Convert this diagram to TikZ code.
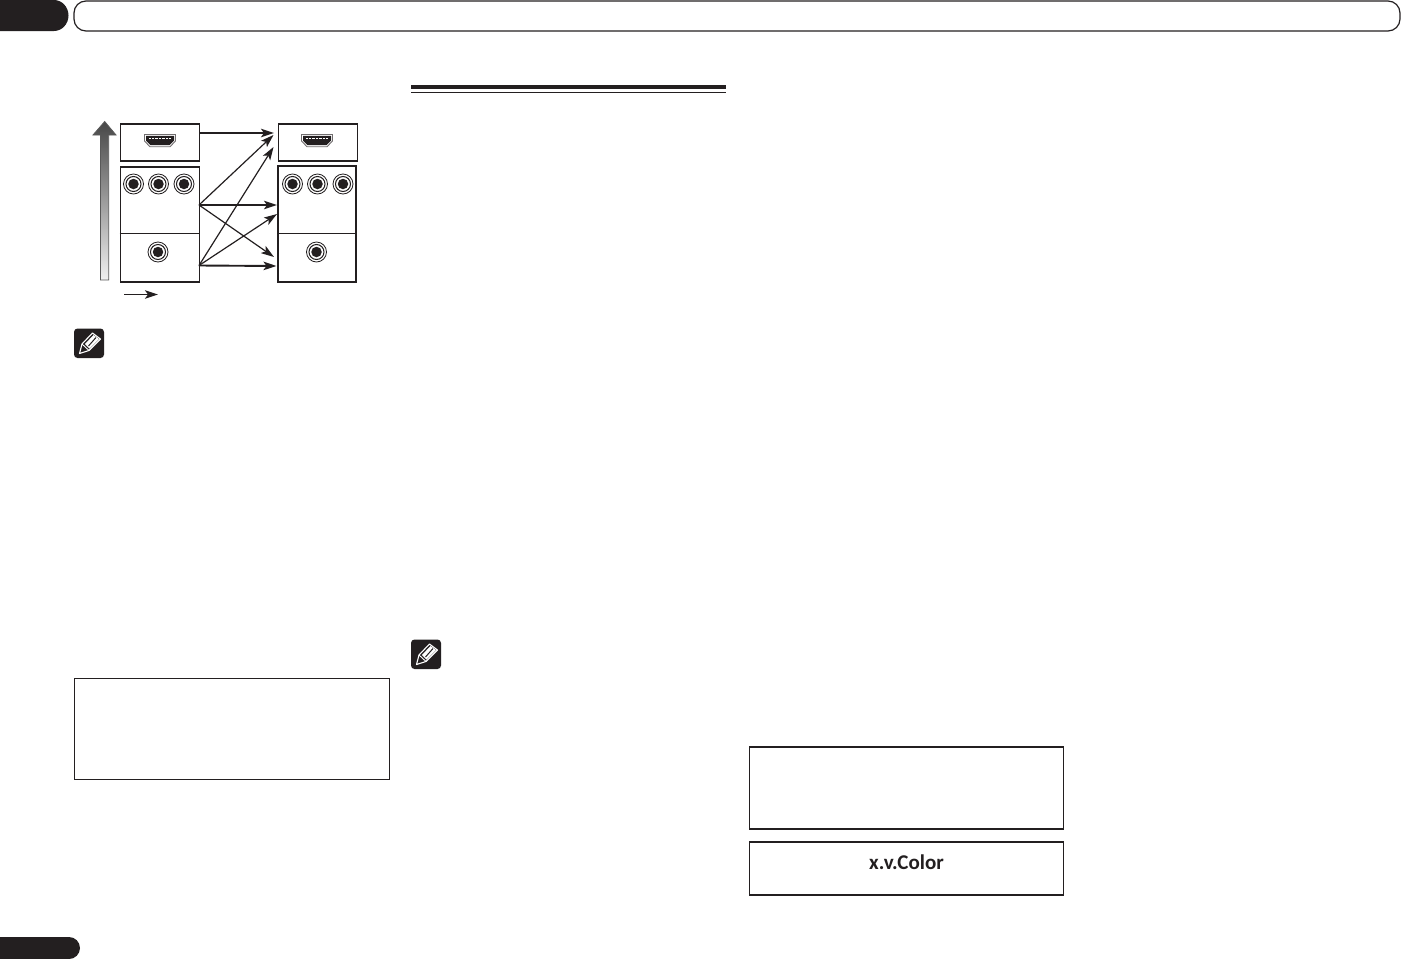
\documentclass[tikz,border=0pt]{standalone}
\usepackage{fontspec}
\setmainfont{Carlito}
\usetikzlibrary{arrows.meta,shadings}
\definecolor{ink}{HTML}{231F20}
\tikzset{
  panel/.style={draw=ink,line width=1.2pt,fill=white,minimum width=#1,inner sep=0pt,outer sep=0pt},
  divider/.style={draw=ink,line width=.6pt},
  conn/.style={draw=ink,line width=1.2pt,-{Stealth[length=13pt,width=8.5pt,inset=3pt]}},
  connbold/.style={conn,line width=1.9pt},
  jackring/.style={circle,draw=ink,line width=.8pt,fill=white,minimum size=20pt,inner sep=0pt},
  jackmid/.style={circle,draw=ink,line width=1pt,fill=white,minimum size=15pt,inner sep=0pt},
  jackcore/.style={circle,fill=ink,minimum size=10.5pt,inner sep=0pt},
  framebox/.style={draw=ink,line width=1pt,fill=white,inner sep=0pt,outer sep=0pt}
}
\newcommand{\rcajack}[3]{%
  \node[jackring] (#1) at (#2,#3) {};
  \node[jackmid] at (#1) {};
  \node[jackcore] at (#1) {};
}
\newcommand{\hdmiport}[2]{%
  \begin{scope}[shift={(#1,#2)}]
    \fill[white,draw=ink!65,line width=.9pt] (-15.5,-6) -- (15.5,-6) -- (15.5,0.5) -- (10,6.2) -- (-10,6.2) -- (-15.5,0.5) -- cycle;
    \fill[ink] (-14,-4.6) -- (14,-4.6) -- (14,0) -- (9.5,4.6) -- (-9.5,4.6) -- (-14,0) -- cycle;
    \draw[white,line width=1.1pt,dash pattern=on .7pt off .7pt] (-11,-2) -- (11,-2);
  \end{scope}
}
\newcommand{\noteicon}[2]{%
  \begin{scope}[shift={(#1,#2)}]
    \fill[ink,rounded corners=3.5pt] (0,0) rectangle (30,29.5);
    \draw[white,line width=1.1pt,line join=round] (5.5,25) -- (8,15.5) -- (18.5,4.5) -- (26.5,10.5) -- (15,22) -- cycle;
    \fill[white] (11,15.5) -- (19.5,6.5) -- (25,10.5) -- (15.5,20) -- cycle;
    \draw[ink,line width=1pt] (14.5,17.5) -- (22,9);
    \draw[white,line width=.9pt] (8,15.5) -- (15,22);
  \end{scope}
}
\begin{document}
\begin{tikzpicture}[x=1pt,y=-1pt]
\useasboundingbox (0,0) rectangle (1401,959);
% page furniture
\fill[ink] (0,0) -- (54,0) arc[start angle=90,end angle=-90,x radius=14.5pt,y radius=15.5pt] -- (0,31) -- cycle;
\draw[ink,line width=1.2pt,rounded corners=12pt] (74,1) rectangle (1400,31);
\fill[ink] (0,937) -- (69,937) arc[start angle=90,end angle=-90,x radius=11pt,y radius=11pt] -- (0,959) -- cycle;
\fill[ink] (411,85) rectangle (726,89.3);
\fill[ink] (411,92) rectangle (726,93);

% gradient arrow
\shade[top color=black!72,bottom color=black!6,draw=black!65,line width=.8pt]
  (100.5,280) -- (100.5,135) -- (93,135) -- (104.7,121.5) -- (116,135) -- (108.7,135) -- (108.7,280) -- cycle;

% boxes
\node[panel=79pt,minimum height=37pt,anchor=north west] (srcA) at (120.5,124) {};
\node[panel=79pt,minimum height=115pt,anchor=north west] (srcB) at (120.5,167) {};
\node[panel=79pt,minimum height=37pt,anchor=north west] (dstA) at (278.5,124) {};
\node[panel=78pt,minimum height=116pt,anchor=north west] (dstB) at (278,166) {};
\coordinate (dvA) at (119.5,233);
\coordinate (dvB) at (199.5,233);
\coordinate (dvC) at (277.5,233);
\coordinate (dvD) at (357,233);
\draw[divider] (dvA) -- (dvB);
\draw[divider] (dvC) -- (dvD);

\hdmiport{160}{140.5}
\hdmiport{317}{140.5}
\rcajack{ja}{133.5}{184}
\rcajack{jb}{158.5}{184}
\rcajack{jc}{184}{184}
\rcajack{jd}{158}{252}
\rcajack{je}{292.5}{184}
\rcajack{jf}{317.5}{184}
\rcajack{jg}{343}{184}
\rcajack{jh}{316.5}{252}

% connectors
\coordinate (sHdmi) at (199,133);
\coordinate (sComp) at (199,205);
\coordinate (sCvbs) at (199,265.5);
\coordinate (tA) at (274,133);
\coordinate (tB) at (273.5,135);
\coordinate (tC) at (273.5,147);
\coordinate (tD) at (277,205);
\coordinate (tE) at (277,214);
\coordinate (tF) at (274,257);
\coordinate (tG) at (276.5,266);
\coordinate (legA) at (124,294.5);
\coordinate (legB) at (158,294.5);
\draw[connbold] (sHdmi) -- (tA);
\draw[conn] (sComp) -- (tB);
\draw[conn] (sCvbs) -- (tC);
\draw[connbold] (sComp) -- (tD);
\draw[conn] (sCvbs) -- (tE);
\draw[conn] (sComp) -- (tF);
\draw[connbold] (sCvbs) -- (tG);
\draw[connbold] (legA) -- (legB);

% note icons
\noteicon{74}{328.5}
\noteicon{411}{639.5}

% text boxes
\node[framebox,line width=.9pt,minimum width=315pt,minimum height=101pt,anchor=north west] (boxA) at (74.5,678.5) {};
\node[framebox,line width=1.6pt,minimum width=314pt,minimum height=82pt,anchor=north west] (boxB) at (749.5,747) {};
\node[framebox,line width=1.3pt,minimum width=314pt,minimum height=53pt,anchor=north west] (boxC) at (749.5,842) {};
\node[text=ink,font=\fontsize{21}{21}\selectfont\bfseries,inner sep=0pt] (xv) at (906.5,862) {x.v.Color};
\end{tikzpicture}
\end{document}
